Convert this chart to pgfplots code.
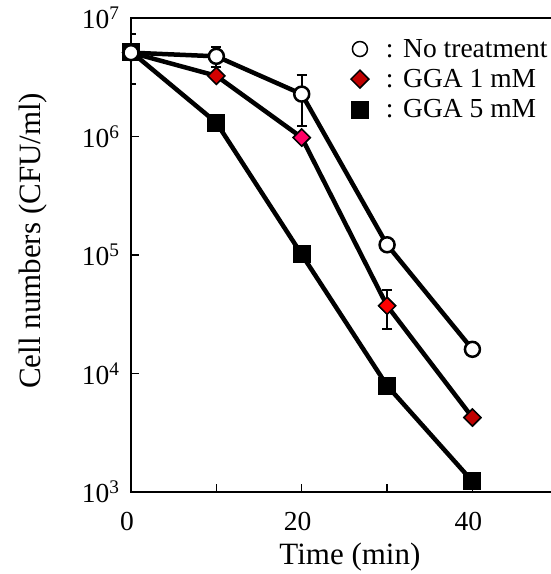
\documentclass[border=0pt]{standalone}
\usepackage{pgfplots}
\pgfplotsset{compat=1.18}
\usepackage{fontspec}
\setmainfont{Liberation Serif}
\definecolor{dred}{HTML}{C00000}
\definecolor{mred}{HTML}{D40000}
\definecolor{pinkred}{HTML}{FF0066}
\definecolor{bred}{HTML}{FF0000}
\begin{document}
\begin{tikzpicture}
\begin{axis}[
  scale only axis, width=426.8pt, height=474pt,
  xmin=0, xmax=50, ymode=log, ymin=1e3, ymax=1e7,
  axis line style={line width=2.5pt},
  tick align=inside, tick pos=left, major tick length=8pt,
  tick style={line width=1.5pt, black}, yminorticks=false,
  xtick={0,10,20,30,40}, xticklabels={0,,20,,40},
  ytick={1e3,1e4,1e5,1e6,1e7},
  yticklabels={10\textsuperscript{3},10\textsuperscript{4},10\textsuperscript{5},10\textsuperscript{6},10\textsuperscript{7}},
  tick label style={font=\fontsize{27.5}{32}\selectfont},
  xticklabel style={xshift=-4pt, yshift=-17pt},
  yticklabel style={xshift=-8pt},
  label style={font=\fontsize{31}{37}\selectfont},
  xlabel={Time (min)}, ylabel={Cell numbers (CFU/ml)},
  xlabel style={at={(axis description cs:0.513,-0.137)}, anchor=center},
  ylabel style={at={(axis description cs:-0.23,0.53)}, anchor=center},
  legend style={draw=none, fill=none, at={(axis description cs:0.508,0.964)}, anchor=north west,
    font=\fontsize{27.5}{32}\selectfont, row sep=6.5pt},
  legend cell align=left,
  error bars/error bar style={line width=2pt, black},
  error bars/error mark options={rotate=90, mark size=5pt, line width=2pt, black},
]
\addlegendimage{only marks, mark=*, mark size=7.5pt, mark options={fill=white, draw=black, line width=1.5pt}}
\addlegendentry{\hspace{0.55em}:\hspace{0.35em}No treatment}
\addlegendimage{only marks, mark=square*, mark size=6.3pt, mark options={rotate=45, fill=dred, draw=black, line width=1.5pt}}
\addlegendentry{\hspace{0.55em}:\hspace{0.35em}GGA 1 mM}
\addlegendimage{only marks, mark=square*, mark size=8.5pt, mark options={fill=black, draw=black}}
\addlegendentry{\hspace{0.55em}:\hspace{0.35em}GGA 5 mM}
% GGA 5 mM
\addplot[forget plot, line width=4.5pt, black, mark=square*, mark size=8.5pt, mark options={fill=black, line width=0pt}]
  coordinates {(0,5.2e6) (10,1.31e6) (20,1.01e5) (30,7.9e3) (40,1.23e3)};
% GGA 1 mM
\addplot[forget plot, line width=4.5pt, black, mark=square*, mark size=6pt, mark options={rotate=45, fill=mred, line width=1.5pt}]
  coordinates {(0,5.1e6) (10,3.25e6) (20,0.98e6) (30,3.73e4) (40,4.25e3)};
\addplot[forget plot, only marks, mark=square*, mark size=6pt, mark options={rotate=45, fill=pinkred, draw=black, line width=1.5pt}]
  coordinates {(20,0.98e6)};
\addplot[forget plot, only marks, mark=square*, mark size=6pt, mark options={rotate=45, fill=bred, draw=black, line width=1.5pt},
  error bars/.cd, y dir=both, y explicit]
  coordinates {(30,3.73e4) +- (0,1.35e4)};
\addplot[forget plot, only marks, mark=square*, mark size=6pt, mark options={rotate=45, fill=dred, draw=black, line width=1.5pt}]
  coordinates {(40,4.25e3)};
% No treatment
\addplot[forget plot, line width=4.5pt, black, mark=*, mark size=7.5pt, mark options={fill=white, line width=2.5pt},
  error bars/.cd, y dir=both, y explicit]
  coordinates {(0,5.1e6) +- (0,2.3e6) (10,4.75e6) +- (0,0.9e6) (20,2.28e6) +- (0,1.05e6) (30,1.22e5) +- (0,0) (40,1.6e4) +- (0,0)};
\end{axis}
\pgfresetboundingbox
\path ([xshift=-131pt,yshift=-82pt]current axis.south west) rectangle ([xshift=420pt,yshift=492pt]current axis.south west);
\end{tikzpicture}
\end{document}
